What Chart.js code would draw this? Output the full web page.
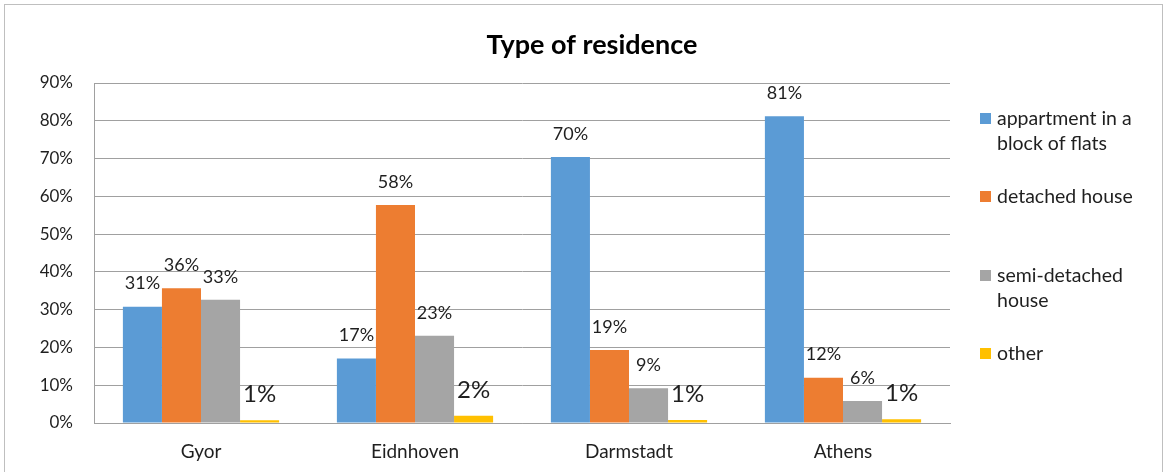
<!DOCTYPE html>
<html>
<head>
<meta charset="utf-8">
<title>Type of residence</title>
<script src="https://cdn.jsdelivr.net/npm/chart.js@4.4.1/dist/chart.umd.min.js"></script>
<style>
  html, body { margin: 0; padding: 0; background: #fff; }
  #wrap { position: relative; width: 1167px; height: 472px; }
</style>
</head>
<body>
<div id="wrap"><canvas id="myChart" width="1167" height="472"></canvas></div>
<script>
'use strict';
// data
var cities = ['Gyor', 'Eidnhoven', 'Darmstadt', 'Athens'];
var seriesNames = ['appartment in a block of flats', 'detached house', 'semi-detached house', 'other'];
var legendLines = [['appartment in a', 'block of flats'], ['detached house'], ['semi-detached', 'house'], ['other']];
var flats = [30.8, 17.1, 70.4, 81.2];
var detached = [35.7, 57.7, 19.3, 12.0];
var semiDetached = [32.6, 23.1, 9.2, 5.8];
var other = [0.7, 1.9, 0.8, 1.0];
var yTicks = [0, 10, 20, 30, 40, 50, 60, 70, 80, 90];
var colors = ['#5B9BD5', '#ED7D31', '#A5A5A5', '#FFC000'];

var fontName = 'Lato, "Open Sans", sans-serif';
var textColor = '#1f1f1f';

// border round the whole chart and the title
var frame = {
    id: 'frame',
    beforeDraw: function (chart) {
        var ctx = chart.ctx;
        ctx.save();
        ctx.fillStyle = '#fff';
        ctx.fillRect(0, 0, chart.width, chart.height);
        ctx.strokeStyle = '#bfbfbf';
        ctx.lineWidth = 1;
        ctx.strokeRect(4.5, 4.5, 1158, 480);
        ctx.fillStyle = '#000';
        ctx.font = 'bold 27px ' + fontName;
        ctx.textAlign = 'center';
        ctx.textBaseline = 'middle';
        ctx.fillText('Type of residence', 592, 45);
        ctx.restore();
    }
};

// value labels above the bars
var valueLabels = {
    id: 'valueLabels',
    afterDatasetsDraw: function (chart) {
        var ctx = chart.ctx;
        ctx.save();
        ctx.fillStyle = textColor;
        ctx.textAlign = 'center';
        ctx.textBaseline = 'middle';
        chart.data.datasets.forEach(function (ds, i) {
            var meta = chart.getDatasetMeta(i);
            ctx.font = (i === 3 ? '24px ' : '18px ') + fontName;
            meta.data.forEach(function (bar, j) {
                ctx.fillText(Math.round(ds.data[j]) + '%', bar.x, bar.y - (i === 3 ? 26 : 23));
            });
        });
        ctx.restore();
    }
};

// legend on the right, drawn by hand for the wrapped lines
var sideLegend = {
    id: 'sideLegend',
    afterDraw: function (chart) {
        var ctx = chart.ctx;
        var tops = [119, 197, 276, 354];
        ctx.save();
        ctx.font = '19.5px ' + fontName;
        ctx.textBaseline = 'middle';
        ctx.textAlign = 'left';
        for (var i = 0; i < legendLines.length; i++) {
            ctx.fillStyle = colors[i];
            ctx.fillRect(980, tops[i] - 6, 11, 11);
            ctx.fillStyle = textColor;
            for (var k = 0; k < legendLines[i].length; k++) {
                ctx.fillText(legendLines[i][k], 997, tops[i] + k * 25);
            }
        }
        ctx.restore();
    }
};

var allSeries = [flats, detached, semiDetached, other];
var datasets = [];
for (var i = 0; i < allSeries.length; i++) {
    datasets.push({
        label: seriesNames[i],
        data: allSeries[i],
        backgroundColor: colors[i],
        borderWidth: 0,
        categoryPercentage: 0.73,
        barPercentage: 1.0
    });
}

var ctx = document.getElementById('myChart').getContext('2d');
var chart = new Chart(ctx, {
    type: 'bar',
    data: {
        labels: cities,
        datasets: datasets
    },
    options: {
        responsive: false,
        animation: false,
        layout: { padding: { left: 0, right: 217, top: 83, bottom: 0 } },
        plugins: {
            legend: { display: false },
            tooltip: { enabled: false },
            title: { display: false }
        },
        scales: {
            x: {
                afterFit: function (scale) { scale.height = 49; },
                grid: { display: false, drawTicks: false },
                border: { display: true, color: '#a0a0a0' },
                ticks: { color: textColor, font: { family: fontName, size: 19 }, padding: 17, maxRotation: 0 }
            },
            y: {
                min: 0,
                max: 90,
                afterFit: function (scale) { scale.width = 94; },
                afterBuildTicks: function (scale) {
                    scale.ticks = yTicks.map(function (v) { return { value: v }; });
                },
                grid: { color: '#a0a0a0', drawTicks: false },
                border: { display: true, color: '#a0a0a0' },
                ticks: {
                    color: textColor,
                    font: { family: fontName, size: 17 },
                    padding: 21,
                    callback: function (v) { return v + '%'; }
                }
            }
        }
    },
    plugins: [frame, valueLabels, sideLegend]
});
</script>
</body>
</html>
